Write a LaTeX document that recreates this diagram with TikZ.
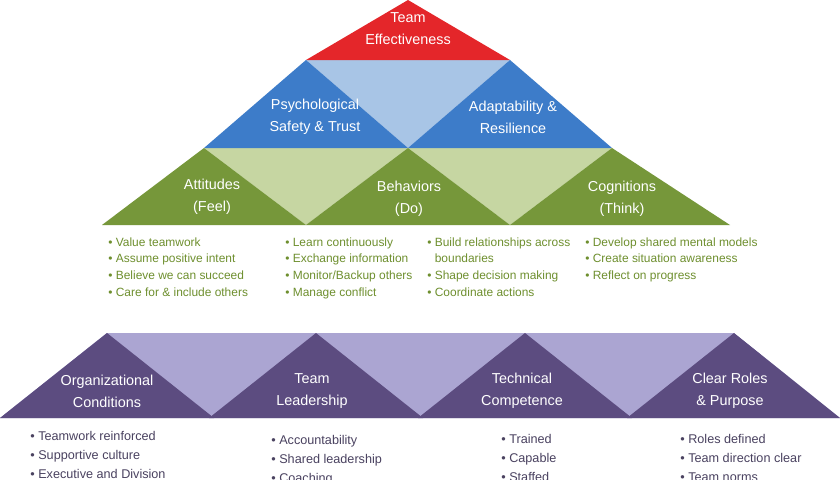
\documentclass[tikz,border=0pt]{standalone}
\usepackage{fontspec}
\setmainfont{Liberation Sans}
\usetikzlibrary{positioning}
\definecolor{effred}{HTML}{E4262A}
\definecolor{trustblue}{HTML}{3D7CC9}
\definecolor{paleblue}{HTML}{A8C5E6}
\definecolor{feelgreen}{HTML}{76973A}
\definecolor{palegreen}{HTML}{C6D6A2}
\definecolor{basepurple}{HTML}{5C4C80}
\definecolor{lavender}{HTML}{ABA5D2}
\definecolor{bulletgreen}{HTML}{6E8F2E}
\definecolor{bulletpurple}{HTML}{4A4260}
\tikzset{
    % Define label and list styles
    lbl/.style={text=white, align=center, font=\fontsize{8.2}{12.5}\selectfont},
    glist/.style={anchor=north west, align=left, text=bulletgreen, inner sep=0pt,
           font=\fontsize{6.8}{9.6}\selectfont},
    plist/.style={anchor=north west, align=left, text=bulletpurple, inner sep=0pt,
           font=\fontsize{7.2}{10.8}\selectfont}
}
\begin{document}
\begin{tikzpicture}[x=0.02cm, y=-0.02cm]
\useasboundingbox[clip] (0,0) rectangle (840,480);
\fill[white] (0,0) rectangle (840,480);
%
% upper pyramid
\fill[paleblue] (306,60) -- (510,60) -- (408,148) -- cycle;
\fill[palegreen] (204,148) -- (408,148) -- (306,225) -- cycle;
\fill[palegreen] (408,148) -- (612,148) -- (510,225) -- cycle;
\fill[effred] (408,0) -- (510,60) -- (306,60) -- cycle;
\fill[trustblue] (306,60) -- (408,148) -- (204,148) -- cycle;
\fill[trustblue] (510,60) -- (612,148) -- (408,148) -- cycle;
\fill[feelgreen] (204,148) -- (306,225) -- (102,225) -- cycle;
\fill[feelgreen] (408,148) -- (510,225) -- (306,225) -- cycle;
\fill[feelgreen] (612,148) -- (730,225) -- (510,225) -- cycle;
%
\node[lbl] (eff) at (408,29) {Team\\ Effectiveness};
\node[lbl] (trust) at (315,117) {Psychological\\ Safety \& Trust};
\node[lbl] (adapt) at (513,117) {Adaptability \&\\ Resilience};
\node[lbl] (feel) at (212,197) {Attitudes\\ (Feel)};
\node[lbl] (do) at (409,199) {Behaviors\\ (Do)};
\node[lbl] (think) at (622,199) {Cognitions\\ (Think)};
%
\node[glist] (feellist) at (108,237) {\textbullet\ Value teamwork\\ \textbullet\ Assume positive intent\\
    \textbullet\ Believe we can succeed\\ \textbullet\ Care for \& include others};
\node[glist] (dolist) at (285,237) {\textbullet\ Learn continuously\\ \textbullet\ Exchange information\\
    \textbullet\ Monitor/Backup others\\ \textbullet\ Manage conflict};
\node[glist] (dolist2) at (427,237) {\textbullet\ Build relationships across\\ \phantom{\textbullet\ }boundaries\\
    \textbullet\ Shape decision making\\ \textbullet\ Coordinate actions};
\node[glist] (thinklist) at (585,237) {\textbullet\ Develop shared mental models\\ \textbullet\ Create situation awareness\\
    \textbullet\ Reflect on progress};
%
% foundation band
\fill[lavender] (107,333) -- (734,333) -- (840,418) -- (0,418) -- cycle;
\fill[basepurple] (107,333) -- (214,418) -- (0,418) -- cycle;
\fill[basepurple] (316,333) -- (423,418) -- (209,418) -- cycle;
\fill[basepurple] (525,333) -- (632,418) -- (418,418) -- cycle;
\fill[basepurple] (734,333) -- (840,418) -- (627,418) -- cycle;
%
\node[lbl] (org) at (107,391) {Organizational\\ Conditions};
\node[lbl] (lead) at (312,391) {Team\\ Leadership};
\node[lbl] (tech) at (522,391) {Technical\\ Competence};
\node[lbl] (roles) at (730,391) {Clear Roles\\ \& Purpose};
%
\node[plist] (orglist) at (30,431) {\textbullet\ Teamwork reinforced\\ \textbullet\ Supportive culture\\
    \textbullet\ Executive and Division};
\node[plist] (leadlist) at (271,435) {\textbullet\ Accountability\\ \textbullet\ Shared leadership\\
    \textbullet\ Coaching};
\node[plist] (techlist) at (501,434) {\textbullet\ Trained\\ \textbullet\ Capable\\ \textbullet\ Staffed};
\node[plist] (roleslist) at (680,434) {\textbullet\ Roles defined\\ \textbullet\ Team direction clear\\
    \textbullet\ Team norms};
\end{tikzpicture}
\end{document}
